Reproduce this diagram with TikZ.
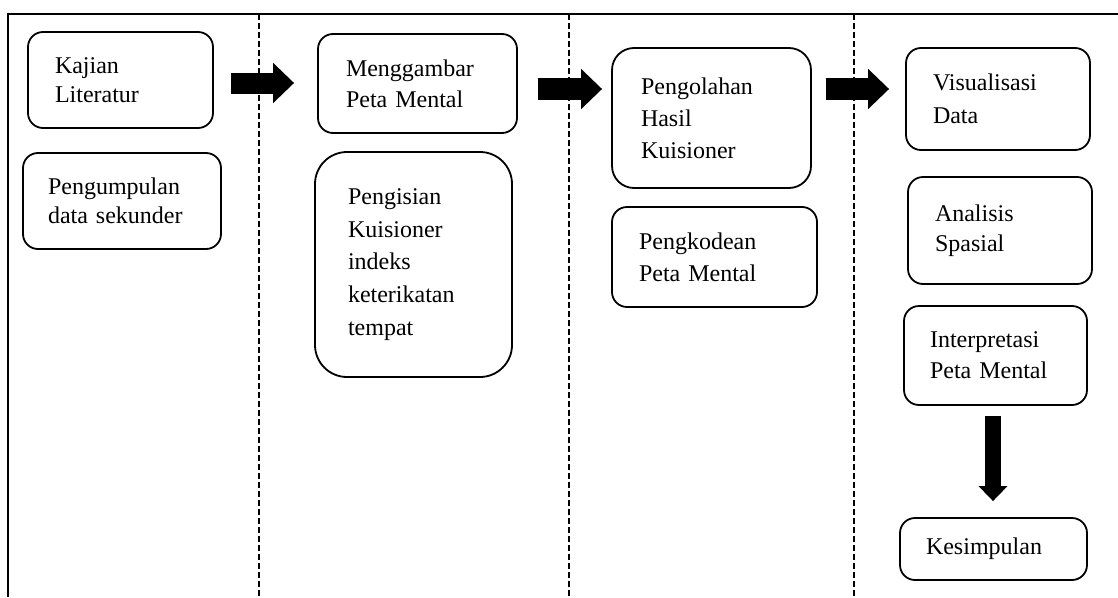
\documentclass[tikz,border=0pt]{standalone}
\usepackage{fontspec}
\setmainfont{Liberation Serif}
\usetikzlibrary{arrows.meta,calc}
\tikzset{
  box/.style={draw, line width=1.8pt, rounded corners=15pt, align=left, inner ysep=0pt,
    font=\fontsize{24}{29}\selectfont},
  blockarrow/.style={line width=21pt, -{Triangle[length=21pt,width=39pt]}},
  downarrow/.style={line width=16pt, -{Triangle[length=15pt,width=28pt]}},
  sep/.style={line width=1.6pt, dash pattern=on 6pt off 3pt},
  frame/.style={line width=2pt}
}
\begin{document}
\begin{tikzpicture}[x=1pt,y=-1pt]
\useasboundingbox (0,0) rectangle (1118,597);
% frame and column separators
\draw[frame] (8,597) -- (8,14) -- (1118,14);
\draw[sep] (259,14) -- (259,597);
\draw[sep] (569,14) -- (569,597);
\draw[sep] (854,14) -- (854,597);
% column 1
\node[box, minimum width=185pt, minimum height=96pt, text width=131pt, inner xsep=27pt] (kaj) at (120.5,80) {Kajian\\Literatur};
\node[box, minimum width=198pt, minimum height=96pt, text width=148pt, inner xsep=25pt] (peng) at (122,201) {Pengumpulan\\data sekunder};
% column 2
\node[box, minimum width=199pt, minimum height=99pt, text width=143pt, inner xsep=28pt, font=\fontsize{24}{31}\selectfont] (meng) at (417.5,83.5) {Menggambar\\Peta Mental};
\node[box, rounded corners=32pt, minimum width=197pt, minimum height=225pt, text width=131pt, inner xsep=33pt, font=\fontsize{24}{32.7}\selectfont] (isi) at (413.5,264.5) {Pengisian\\Kuisioner\\indeks\\keterikatan\\tempat};
% column 3
\node[box, rounded corners=22pt, minimum width=199pt, minimum height=140pt, text width=141pt, inner xsep=29pt, font=\fontsize{24}{32}\selectfont] (pengo) at (711.5,118) {Pengolahan\\Hasil\\Kuisioner};
\node[box, minimum width=205pt, minimum height=100pt, text width=151pt, inner xsep=27pt, font=\fontsize{24}{32}\selectfont] (kode) at (714.5,257) {Pengkodean\\Peta Mental};
% column 4
\node[box, minimum width=184pt, minimum height=102pt, text width=130pt, inner xsep=27pt, font=\fontsize{24}{33}\selectfont] (vis) at (998,99) {Visualisasi\\Data};
\node[box, minimum width=184pt, minimum height=107pt, text width=130pt, inner xsep=27pt, font=\fontsize{24}{30}\selectfont] (ana) at (1000,230.5) {Analisis\\Spasial};
\node[box, minimum width=183pt, minimum height=99pt, text width=131pt, inner xsep=26pt, font=\fontsize{24}{31}\selectfont] (interp) at (995.5,355.5) {Interpretasi\\Peta Mental};
\node[box, minimum width=187pt, minimum height=62pt, text width=135pt, inner xsep=26pt] (kes) at (993.5,549) {Kesimpulan};
% block arrows
\draw[blockarrow] ($(kaj.east)+(17,3)$) -- ($(kaj.east -| meng.west)+(-23,3)$);
\draw[blockarrow, line width=22pt] ($(meng.east)+(20,5.5)$) -- ($(meng.east -| pengo.west)+(-9,5.5)$);
\draw[blockarrow, line width=22pt] ($(pengo.east)+(14,-29)$) -- ($(pengo.east -| vis.west)+(-16,-29)$);
\draw[downarrow] ($(interp.south)+(-2.5,10)$) -- ($(kes.north)+(-0.5,-16)$);
\end{tikzpicture}
\end{document}
